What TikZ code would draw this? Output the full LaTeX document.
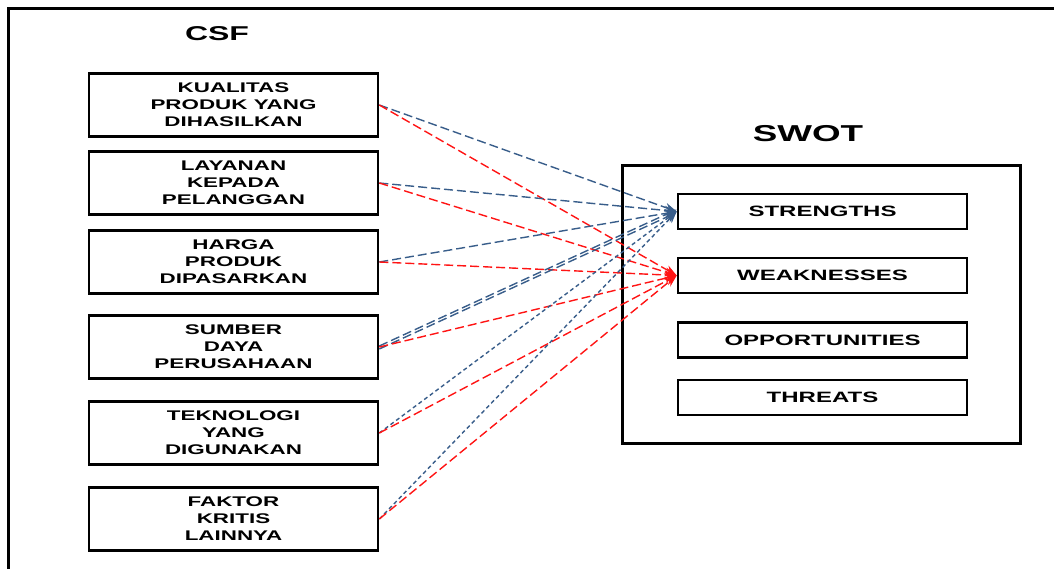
\documentclass[tikz,border=0pt]{standalone}
\usepackage{fontspec}
\usepackage{tikz}
\usetikzlibrary{arrows.meta, positioning}
\newfontfamily\boxfont{Liberation Sans}[FakeStretch=1.6]
\definecolor{swotblue}{RGB}{56,93,138}
\definecolor{swotred}{RGB}{255,20,20}
\tikzstyle{csfbox} = [rectangle, minimum width=289pt, minimum height=63pt, text centered, align=center, draw=black, line width=2.6pt, font=\boxfont\bfseries\fontsize{14}{17}\selectfont]
\tikzstyle{swotbox} = [rectangle, minimum width=289pt, minimum height=35pt, text centered, draw=black, line width=2.6pt, font=\boxfont\bfseries\fontsize{15}{17}\selectfont]
\tikzstyle{title} = [font=\boxfont\bfseries\fontsize{20}{24}\selectfont]
\tikzstyle{toS} = [line width=1.4pt, draw=swotblue, dash pattern=on 9pt off 4pt, -{Stealth[length=12pt,width=9pt]}]
\tikzstyle{toSshort} = [line width=1.4pt, draw=swotblue, dash pattern=on 4pt off 3pt, -{Stealth[length=12pt,width=9pt]}]
\tikzstyle{toW} = [line width=1.4pt, draw=swotred, dash pattern=on 9pt off 4pt, -{Stealth[length=12pt,width=9pt]}]

\begin{document}
\begin{tikzpicture}[x=1pt, y=-1pt, node distance=78pt]
    \useasboundingbox (0,0) rectangle (1054,568);
    % Frame
    \draw[line width=3pt] (8,570) -- (8,8) -- (1056,8);

    % CSF side
    \node (csf) [title] at (217,34) {CSF};
    \node (kualitas) [csfbox] at (233.5,105) {KUALITAS\\PRODUK YANG\\DIHASILKAN};
    \node (layanan) [csfbox, below of=kualitas] {LAYANAN\\KEPADA\\PELANGGAN};
    \node (harga) [csfbox, below of=layanan, yshift=-1pt] {HARGA\\PRODUK\\DIPASARKAN};
    \node (sumber) [csfbox, below of=harga, yshift=-7pt] {SUMBER\\DAYA\\PERUSAHAAN};
    \node (teknologi) [csfbox, below of=sumber, yshift=-8pt] {TEKNOLOGI\\YANG\\DIGUNAKAN};
    \node (faktor) [csfbox, below of=teknologi, yshift=-8pt] {FAKTOR\\KRITIS\\LAINNYA};

    % SWOT side
    \node (swot) [title, font=\boxfont\bfseries\fontsize{23}{27}\selectfont] at (808,134) {SWOT};
    \node (swotframe) [rectangle, draw=black, line width=3pt, minimum width=398pt, minimum height=278pt] at (821,304.5) {};
    \node (strengths) [swotbox] at (822.5,211.5) {STRENGTHS};
    \node (weaknesses) [swotbox, below of=strengths, node distance=64pt] {WEAKNESSES};
    \node (opportunities) [swotbox, below of=weaknesses, node distance=64.5pt] {OPPORTUNITIES};
    \node (threats) [swotbox, below of=opportunities, node distance=57.5pt] {THREATS};

    % Arrows
    \draw [toS] (kualitas.east) -- (strengths.west);
    \draw [toW] (kualitas.east) -- (weaknesses.west);
    \draw [toS] (layanan.east) -- (strengths.west);
    \draw [toW] (layanan.east) -- (weaknesses.west);
    \draw [toS] (harga.east) -- (strengths.west);
    \draw [toW] (harga.east) -- (weaknesses.west);
    \draw [toS] ([yshift=-2pt]sumber.east) -- ([yshift=-1pt]strengths.west);
    \draw [toS] ([yshift=1pt]sumber.east) -- ([yshift=2pt]strengths.west);
    \draw [toW] (sumber.east) -- (weaknesses.west);
    \draw [toSshort] (teknologi.east) -- (strengths.west);
    \draw [toW] (teknologi.east) -- (weaknesses.west);
    \draw [toSshort] (faktor.east) -- (strengths.west);
    \draw [toW] (faktor.east) -- (weaknesses.west);
\end{tikzpicture}
\end{document}
